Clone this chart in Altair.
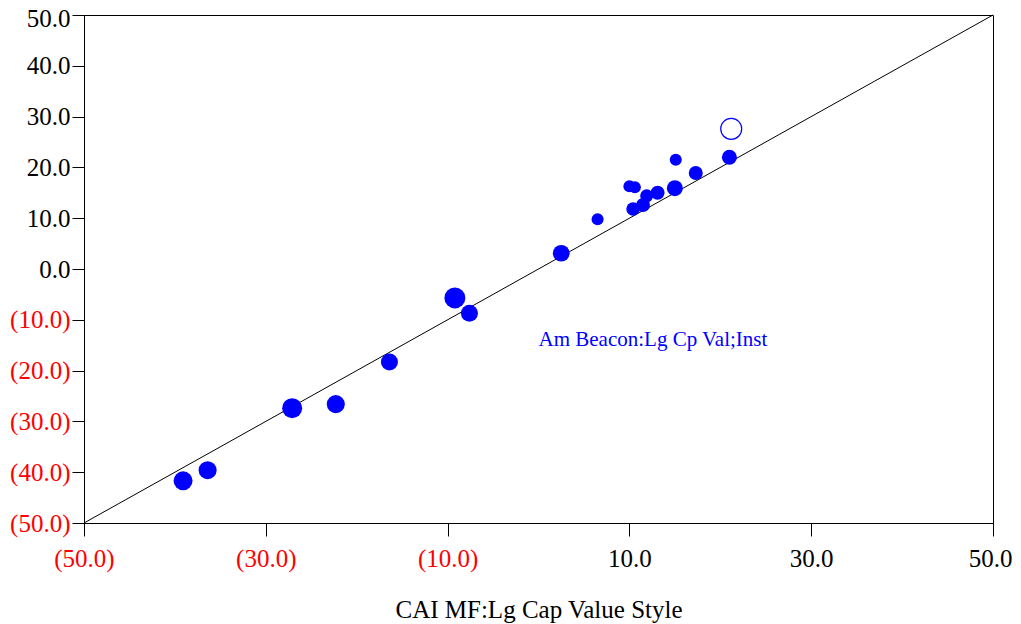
import altair as alt
import pandas as pd

# Fund points (x = CAI MF:Lg Cap Value Style, y = fund)
xs = [-39.1, -36.4, -27.1, -22.3, -16.4, -9.2, -7.6, 2.5, 6.5, 10.0, 10.6,
      10.4, 11.5, 11.9, 13.1, 15.0, 17.3, 15.1, 21.0]
ys = [-41.7, -39.6, -27.4, -26.6, -18.3, -5.7, -8.7, 3.1, 9.8, 16.3, 16.1,
      11.8, 12.6, 14.4, 15.0, 15.9, 18.9, 21.5, 22.0]
weights = [72, 65, 80, 65, 58, 88, 58, 56, 29, 29, 29,
           36, 39, 34, 39, 51, 39, 29, 45]

# Highlighted fund
hx = [21.2]
hy = [27.6]
hweight = [88]
hlabel = ["Am Beacon:Lg Cp Val;Inst"]
label_x = [0.0]
label_y = [-14.0]

diag = [-50, 50]

x_ticks = [-50, -30, -10, 10, 30, 50]
y_ticks = [-50, -40, -30, -20, -10, 0, 10, 20, 30, 40, 50]

FONT = "Liberation Serif"
BLUE = "#0000ff"

df = pd.DataFrame({"x": xs, "y": ys, "w": weights})
dh = pd.DataFrame({"x": hx, "y": hy, "w": hweight})
dl = pd.DataFrame({"x": label_x, "y": label_y, "t": hlabel})
dd = pd.DataFrame({"x": diag, "y": diag})

lab_expr = "datum.value < 0 ? '(' + format(-datum.value, '.1f') + ')' : format(datum.value, '.1f')"
col_expr = "datum.value < 0 ? 'red' : 'black'"

xscale = alt.Scale(domain=[-50, 50], nice=False, zero=False)
yscale = alt.Scale(domain=[-50, 50], nice=False, zero=False)
sscale = alt.Scale(type="linear", domain=[0, 100], range=[0, 500])

xaxis = alt.Axis(values=x_ticks, labelExpr=lab_expr, labelColor=alt.ExprRef(expr=col_expr),
                 title="CAI MF:Lg Cap Value Style", grid=False, tickSize=13,
                 labelPadding=10, titlePadding=26, labelFlush=False,
                 labelOffset=alt.ExprRef(expr="datum.value == 50 ? -3 : 0"))
yaxis = alt.Axis(values=y_ticks, labelExpr=lab_expr, labelColor=alt.ExprRef(expr=col_expr),
                 title=None, grid=False, tickSize=12, labelPadding=2, labelFlush=False,
                 labelOffset=alt.ExprRef(expr="datum.value == 50 ? 3 : 0"))

line = alt.Chart(dd).mark_line(color="black", strokeWidth=1).encode(
    x=alt.X("x:Q", scale=xscale, axis=xaxis),
    y=alt.Y("y:Q", scale=yscale, axis=yaxis),
)

pts = alt.Chart(df).mark_circle(color=BLUE, opacity=1).encode(
    x=alt.X("x:Q", scale=xscale),
    y=alt.Y("y:Q", scale=yscale),
    size=alt.Size("w:Q", scale=sscale, legend=None),
)

hpt = alt.Chart(dh).mark_point(shape="circle", color=BLUE, filled=False, strokeWidth=1.2, opacity=1).encode(
    x=alt.X("x:Q", scale=xscale),
    y=alt.Y("y:Q", scale=yscale),
    size=alt.Size("w:Q", scale=sscale, legend=None),
)

txt = alt.Chart(dl).mark_text(color=BLUE, font=FONT, fontSize=21, align="left", baseline="middle").encode(
    x=alt.X("x:Q", scale=xscale),
    y=alt.Y("y:Q", scale=yscale),
    text="t:N",
)

chart = alt.layer(line, pts, hpt, txt).properties(
    width=909, height=508,
    autosize=alt.AutoSizeParams(type="none"),
    padding={"left": 76, "top": 7, "right": 20, "bottom": 100},
    background="white",
).configure_view(stroke="black", strokeWidth=1).configure_axis(
    domainColor="black", tickColor="black", labelFont=FONT, titleFont=FONT,
    labelFontSize=25, titleFontSize=25, titleFontWeight="normal", titleColor="black",
    domainWidth=1, tickWidth=1,
)

chart.save("out.html", embed_options={"renderer": "svg", "actions": False})
